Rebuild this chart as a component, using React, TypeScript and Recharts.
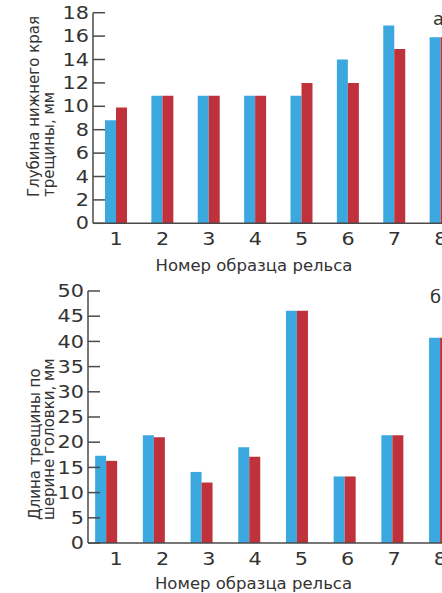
import { BarChart, Bar, XAxis, YAxis } from "recharts";

const samples = ["1", "2", "3", "4", "5", "6", "7", "8"];

// (а) depth of the lower crack edge, mm
const depthBlue = [8.8, 10.9, 10.9, 10.9, 10.9, 14, 16.9, 15.9];
const depthRed = [9.9, 10.9, 10.9, 10.9, 12, 12, 14.9, 15.9];
const depthTicks = [0, 2, 4, 6, 8, 10, 12, 14, 16, 18];

// (б) crack length across the head width, mm
const lengthBlue = [17.3, 21.4, 14.1, 19.0, 46.1, 13.2, 21.4, 40.7];
const lengthRed = [16.3, 21.0, 12.0, 17.1, 46.1, 13.2, 21.4, 40.7];
const lengthTicks = [0, 5, 10, 15, 20, 25, 30, 35, 40, 45, 50];

const BLUE = "#3ba9e0";
const RED = "#c0323b";
const AXIS = "#4a4a4a";
const INK = "#333";
const FONT = "DejaVu Sans";

const depthData = samples.map((n, i) => ({ n, blue: depthBlue[i], red: depthRed[i] }));
const lengthData = samples.map((n, i) => ({ n: Number(n), blue: lengthBlue[i], red: lengthRed[i] }));

/* y tick: number on the left, short tick pointing into the plot */
function YTick(props: any) {
  const { x, y, payload } = props;
  return (
    <g>
      <line x1={x + 4} x2={x + 16} y1={y} y2={y} stroke={AXIS} strokeWidth={1.5} />
      <text
        transform={`translate(${x},${y}) scale(1.22,1)`}
        textAnchor="end"
        dy="0.36em"
        fontSize={17}
        fontFamily={FONT}
        fill={INK}
      >
        {payload.value}
      </text>
    </g>
  );
}

function XTick(props: any) {
  const { x, y, payload } = props;
  return (
    <text
      transform={`translate(${x},${y}) scale(1.22,1)`}
      textAnchor="middle"
      dy="0.71em"
      fontSize={17}
      fontFamily={FONT}
      fill={INK}
    >
      {payload.value}
    </text>
  );
}

function yTitle(lines: string[], x: number, y: number, tag: string, tagX: number, tagY: number) {
  return () => (
    <g>
      <text
        transform={`rotate(-90 ${x} ${y})`}
        x={x}
        y={y}
        fontSize={15}
        fontFamily={FONT}
        fill={INK}
      >
        <tspan x={x} y={y}>{lines[0]}</tspan>
        <tspan x={x} dy={14.5}>{lines[1]}</tspan>
      </text>
      <text x={tagX} y={tagY} fontSize={18} fontFamily={FONT} fill={INK}>
        {tag}
      </text>
    </g>
  );
}

function xTitle(x: number, y: number) {
  return () => (
    <text x={x} y={y} textAnchor="middle" fontSize={16.5} fontFamily={FONT} fill={INK}>
      Номер образца рельса
    </text>
  );
}

export default function App() {
  return (
    <div
      style={{
        position: "fixed",
        left: 0,
        top: 0,
        width: 442,
        height: 593,
        overflow: "hidden",
        background: "#fff",
      }}
    >
      <div style={{ position: "absolute", left: 0, top: 0 }}>
        <BarChart
          width={464}
          height={283.3}
          data={depthData}
          margin={{ top: 12.7, right: 0, bottom: 0, left: 0 }}
          barGap={0}
        >
          <XAxis
            dataKey="n"
            height={60}
            tickLine={false}
            tickSize={0}
            tickMargin={10}
            axisLine={{ stroke: AXIS, strokeWidth: 1.5 }}
            tick={(p: any) => <XTick {...p} />}
            label={{ content: xTitle(254, 270.7) }}
          />
          <YAxis
            width={93}
            domain={[0, 18]}
            ticks={depthTicks}
            allowDataOverflow
            tickLine={false}
            tickSize={0}
            tickMargin={4}
            axisLine={{ stroke: AXIS, strokeWidth: 1.5 }}
            tick={(p: any) => <YTick {...p} />}
            label={{
              content: yTitle(["Глубина нижнего края", "трещины, мм"], 39.5, 197, "а", 433, 25),
            }}
          />
          <Bar dataKey="blue" fill={BLUE} barSize={11} isAnimationActive={false} />
          <Bar dataKey="red" fill={RED} barSize={11} isAnimationActive={false} />
        </BarChart>
      </div>

      <div style={{ position: "absolute", left: 0, top: 280 }}>
        <BarChart
          width={464}
          height={313}
          data={lengthData}
          margin={{ top: 11, right: 0, bottom: 0, left: 0 }}
          barGap={0}
        >
          <XAxis
            xAxisId="bars"
            dataKey="n"
            type="number"
            domain={[0.6226, 8.505]}
            allowDataOverflow
            ticks={[1, 2, 3, 4, 5, 6, 7, 8]}
            height={0}
            hide
          />
          <XAxis
            xAxisId="labels"
            dataKey="n"
            type="number"
            domain={[0.391, 8.512]}
            allowDataOverflow
            ticks={[1, 2, 3, 4, 5, 6, 7, 8]}
            height={50}
            tickLine={false}
            tickSize={0}
            tickMargin={10}
            axisLine={{ stroke: AXIS, strokeWidth: 1.5 }}
            tick={(p: any) => <XTick {...p} />}
            label={{ content: xTitle(253.5, 309.3) }}
          />
          <YAxis
            width={88}
            domain={[0, 50]}
            ticks={lengthTicks}
            allowDataOverflow
            tickLine={false}
            tickSize={0}
            tickMargin={4}
            axisLine={{ stroke: AXIS, strokeWidth: 1.5 }}
            tick={(p: any) => <YTick {...p} />}
            label={{
              content: yTitle(["Длина трещины по", "шерине головки, мм"], 39.5, 240, "б", 430, 23),
            }}
          />
          <Bar xAxisId="bars" dataKey="blue" fill={BLUE} barSize={11} isAnimationActive={false} />
          <Bar xAxisId="bars" dataKey="red" fill={RED} barSize={11} isAnimationActive={false} />
        </BarChart>
      </div>
    </div>
  );
}
